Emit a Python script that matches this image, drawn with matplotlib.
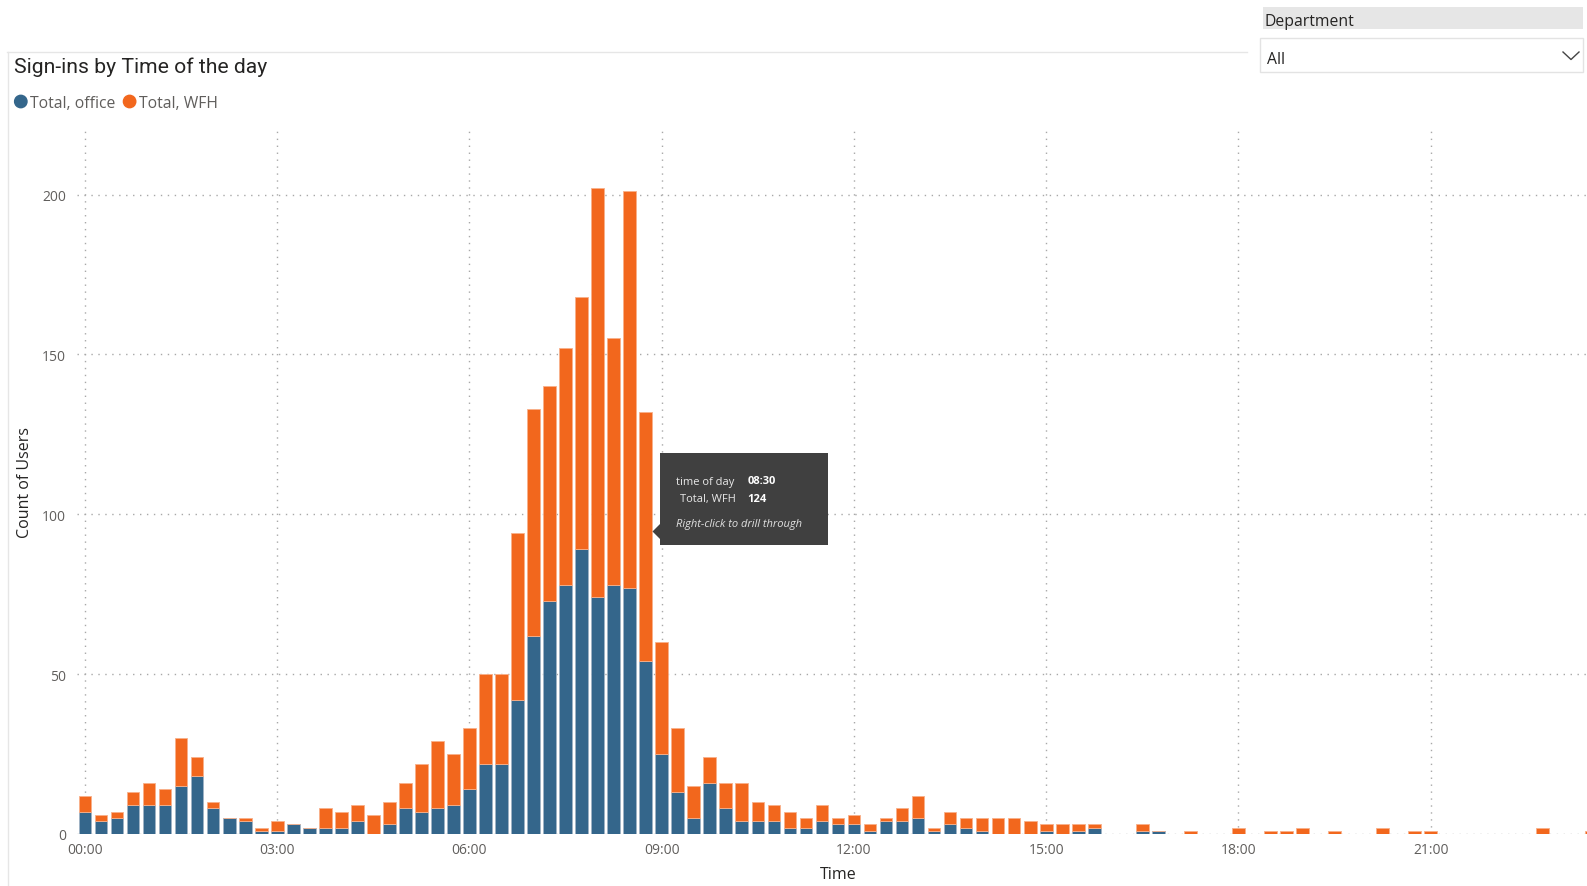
import matplotlib
matplotlib.use("Agg")
import matplotlib.pyplot as plt
from matplotlib.patches import Rectangle, Ellipse, Polygon
from matplotlib.lines import Line2D
import numpy as np

W, H = 1587, 887

# ---- data: 15-minute bins over 24h ----
bin_minutes = 15
office = [7, 4, 5, 9, 9, 9, 15, 18, 8, 5, 4, 1, 1, 3, 2, 2,
          2, 4, 0, 3, 8, 7, 8, 9, 14, 22, 22, 42, 62, 73, 78, 89,
          74, 78, 77, 54, 25, 13, 5, 16, 8, 4, 4, 4, 2, 2, 4, 3,
          3, 1, 4, 4, 5, 1, 3, 2, 1, 0, 0, 0, 1, 0, 1, 2,
          0, 0, 1, 1, 0, 0, 0, 0, 0, 0, 0, 0, 0, 0, 0, 0,
          0, 0, 0, 0, 0, 0, 0, 0, 0, 0, 0, 0, 0, 0, 0, 0]
wfh = [5, 2, 2, 4, 7, 5, 15, 6, 2, 0, 1, 1, 3, 0, 0, 6,
       5, 5, 6, 7, 8, 15, 21, 16, 19, 28, 28, 52, 71, 67, 74, 79,
       128, 77, 124, 78, 35, 20, 10, 8, 8, 12, 6, 5, 5, 3, 5, 2,
       3, 2, 1, 4, 7, 1, 4, 3, 4, 5, 5, 4, 2, 3, 2, 1,
       0, 0, 2, 0, 0, 1, 0, 0, 2, 0, 1, 1, 2, 0, 1, 0,
       0, 2, 0, 1, 1, 0, 0, 0, 0, 0, 0, 2, 0, 0, 1, 0]
tick_hours = [0, 3, 6, 9, 12, 15, 18, 21]
tick_labels = ["00:00", "03:00", "06:00", "09:00", "12:00", "15:00", "18:00", "21:00"]
y_ticks = [0, 50, 100, 150, 200]
series_names = ["Total, office", "Total, WFH"]
tooltip_time = "08:30"
tooltip_value = "124"

C_OFFICE = "#34668B"
C_WFH = "#F2671D"
GRID = "#A8A8A8"
TICKC = "#605E5C"
DARK = "#252423"
FONT = ["Open Sans", "DejaVu Sans"]

plt.rcParams["font.family"] = FONT

fig = plt.figure(figsize=(W / 100, H / 100), dpi=100)
fig.patch.set_facecolor("white")

def fx(x):
    return x / W

def fy(y):
    return 1 - y / H

# axes placement (pixel coords of the reference)
ax_left, ax_right, ax_top, ax_bottom = 77, 1587, 131.6, 835
ax = fig.add_axes([fx(ax_left), fy(ax_bottom), fx(ax_right - ax_left), (ax_bottom - ax_top) / H])

x = np.arange(len(office)) * bin_minutes / 60.0  # hours
bw = 0.79 * bin_minutes / 60.0
ax.bar(x, office, width=bw, color=C_OFFICE, edgecolor="#9FB3C4", linewidth=0.6, zorder=3)
ax.bar(x, wfh, width=bw, bottom=office, color=C_WFH, edgecolor="#F8B08A", linewidth=0.6, zorder=3)

step = bin_minutes / 60.0
ax.set_xlim(-0.5 * step, (ax_right - 85) / 16.02 * step)
ax.set_ylim(0, 220)

ax.set_xticks(tick_hours)
ax.set_xticklabels(tick_labels)
ax.set_yticks(y_ticks)
ax.tick_params(axis="both", length=0, colors=TICKC, labelsize=10)
ax.tick_params(axis="x", pad=6)
ax.tick_params(axis="y", pad=8)

for s in ax.spines.values():
    s.set_visible(False)

dot = (0, (1, 4))
for h in tick_hours:
    ax.axvline(h, color=GRID, linestyle=dot, linewidth=1, zorder=1)
for yv in y_ticks:
    ax.axhline(yv, color=GRID, linestyle=dot, linewidth=1, zorder=1)

ax.set_ylabel("Count of Users", fontsize=11.5, color=DARK)
ax.yaxis.set_label_coords(fx(33), fy(483), transform=fig.transFigure)
ax.set_xlabel("Time", fontsize=11.5, color=DARK)
ax.xaxis.set_label_coords(fx(838), fy(867), transform=fig.transFigure)

# ---- visual frame ----
fig.add_artist(Line2D([fx(7), fx(1247)], [fy(52.5), fy(52.5)], color="#E6E6E6", lw=1))
fig.add_artist(Line2D([fx(7.5), fx(7.5)], [fy(52.5), fy(887)], color="#E6E6E6", lw=1))

# ---- title & legend ----
fig.text(fx(14), fy(67.5), "Sign-ins by Time of the day", fontsize=15.2, color=DARK,
         va="center", ha="left", family=["Roboto", "DejaVu Sans"])
r = 6.2
fig.add_artist(Ellipse((fx(20.8), fy(102.5)), 2 * r / W, 2 * r / H, color=C_OFFICE))
fig.text(fx(30.5), fy(104.5), series_names[0], fontsize=11.3, color=TICKC, va="center", ha="left")
fig.add_artist(Ellipse((fx(129.6), fy(102.5)), 2 * r / W, 2 * r / H, color=C_WFH))
fig.text(fx(139), fy(104.5), series_names[1], fontsize=11.3, color=TICKC, va="center", ha="left")

# ---- slicer ----
fig.add_artist(Rectangle((fx(1263), fy(30)), fx(1583 - 1263), (30 - 8) / H, facecolor="#E6E6E6",
                         edgecolor="none"))
fig.text(fx(1264), fy(22), "Department", fontsize=11.3, color=DARK, va="center", ha="left")
fig.add_artist(Rectangle((fx(1260), fy(73)), fx(1583 - 1260), (73 - 39) / H, facecolor="white",
                         edgecolor="#E3E3E3", lw=1))
fig.text(fx(1267), fy(60), "All", fontsize=11.3, color=DARK, va="center", ha="left")
fig.add_artist(Line2D([fx(1563), fx(1571), fx(1579)], [fy(53), fy(60.5), fy(53)],
                      color="#444444", lw=1))

# ---- tooltip ----
tip_bg = "#404040"
fig.add_artist(Rectangle((fx(660), fy(546)), fx(828 - 660), (546 - 454) / H,
                         facecolor=tip_bg, edgecolor="none", zorder=10))
fig.add_artist(Polygon([(fx(652.5), fy(532.5)), (fx(660.5), fy(524.5)), (fx(660.5), fy(540.5))],
                       closed=True, facecolor=tip_bg, edgecolor="none", zorder=10))
fig.text(fx(676.5), fy(482), "time of day", fontsize=8, color="#E8E8E8", va="center", ha="left", zorder=11)
fig.text(fx(747.5), fy(482), tooltip_time, fontsize=8, color="white", weight="bold",
         va="center", ha="left", zorder=11)
fig.text(fx(736), fy(500), series_names[1], fontsize=8, color="#E8E8E8", va="center", ha="right", zorder=11)
fig.text(fx(747.5), fy(500), tooltip_value, fontsize=8, color="white", weight="bold",
         va="center", ha="left", zorder=11)
fig.text(fx(676.5), fy(524), "Right-click to drill through", fontsize=8, color="#E0E0E0",
         style="italic", va="center", ha="left", zorder=11)

fig.savefig("out.png", dpi=100)
